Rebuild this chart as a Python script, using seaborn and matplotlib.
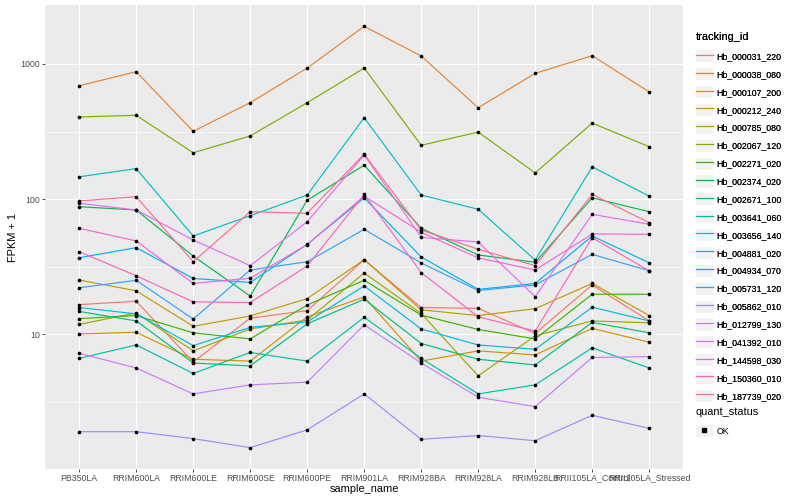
import numpy as np
import pandas as pd
import matplotlib
matplotlib.use("Agg")
import matplotlib.pyplot as plt
from matplotlib.lines import Line2D
from matplotlib.patches import Rectangle
from matplotlib.ticker import FixedLocator, FixedFormatter, NullFormatter
import seaborn as sns

samples = ["PB350LA", "RRIM600LA", "RRIM600LE", "RRIM600SE", "RRIM600PE", "RRIM901LA",
           "RRIM928BA", "RRIM928LA", "RRIM928LB", "RRII105LA_Control", "RRII105LA_Stressed"]

tracking_ids = ["Hb_000031_220", "Hb_000038_080", "Hb_000107_200", "Hb_000212_240",
                "Hb_000785_080", "Hb_002067_120", "Hb_002271_020", "Hb_002374_020",
                "Hb_002671_100", "Hb_003641_060", "Hb_003656_140", "Hb_004881_020",
                "Hb_004934_070", "Hb_005731_120", "Hb_005862_010", "Hb_012799_130",
                "Hb_041392_010", "Hb_144598_030", "Hb_150360_010", "Hb_187739_020"]

# FPKM + 1, one list per gene, in sample order
hb_000031_220 = [16.5, 17.5, 6.2, 13.1, 14.9, 35.5, 15.7, 15.5, 10.1, 23.1, 12.5]
hb_000038_080 = [690, 877, 317, 517, 933, 1900, 1146, 474, 853, 1152, 621]
hb_000107_200 = [10.0, 10.3, 6.5, 6.3, 13.4, 18.8, 6.3, 7.5, 7.0, 11.0, 8.7]
hb_000212_240 = [25.1, 20.9, 11.4, 13.6, 18.3, 35.5, 15.1, 13.7, 15.4, 23.7, 13.7]
hb_000785_080 = [11.8, 14.3, 7.5, 10.9, 12.7, 28.3, 14.2, 4.9, 9.7, 12.5, 12.1]
hb_002067_120 = [405, 417, 220, 293, 517, 933, 250, 313, 156, 365, 244]
hb_002271_020 = [13.0, 13.7, 10.2, 9.2, 16.4, 25.0, 13.8, 10.8, 9.2, 19.7, 19.7]
hb_002374_020 = [87.7, 82.9, 37.8, 19.1, 98, 178, 60.7, 38.5, 34.0, 102, 80.5]
hb_002671_100 = [14.7, 12.5, 6.1, 5.8, 11.9, 18.1, 8.5, 6.5, 5.9, 12.2, 10.2]
hb_003641_060 = [6.6, 8.3, 5.1, 7.3, 6.3, 13.3, 6.6, 3.6, 4.2, 7.9, 5.6]
hb_003656_140 = [146, 168, 53.2, 75.2, 107, 400, 107, 83.9, 35.3, 173, 105]
hb_004881_020 = [15.7, 14.1, 8.2, 11.2, 12.3, 22.7, 10.9, 8.3, 7.7, 15.8, 12.5]
hb_004934_070 = [36.7, 43.6, 25.8, 24.1, 46.2, 102, 37.2, 21.4, 23.7, 53.2, 33.7]
hb_005731_120 = [22.0, 25.0, 12.9, 29.8, 34.3, 59.6, 33.6, 21.0, 23.1, 38.9, 29.4]
hb_005862_010 = [1.89, 1.89, 1.68, 1.44, 1.95, 3.6, 1.66, 1.77, 1.62, 2.5, 2.0]
hb_012799_130 = [7.2, 5.6, 3.6, 4.2, 4.4, 11.7, 6.1, 3.4, 2.9, 6.7, 6.8]
hb_041392_010 = [93, 82.9, 49.7, 32.1, 67.9, 212, 52, 48, 18.9, 77, 65]
hb_144598_030 = [60.7, 48.9, 23.7, 25.9, 46, 105, 56.7, 36.6, 29.8, 55.1, 54.8]
hb_150360_010 = [40.7, 27.0, 17.3, 17.1, 31.9, 108, 28.5, 13.4, 10.5, 51.7, 29.4]
hb_187739_020 = [96.7, 104, 34.3, 80.5, 78.4, 215, 58.9, 42.4, 32.1, 108, 66.8]

series = [hb_000031_220, hb_000038_080, hb_000107_200, hb_000212_240, hb_000785_080,
          hb_002067_120, hb_002271_020, hb_002374_020, hb_002671_100, hb_003641_060,
          hb_003656_140, hb_004881_020, hb_004934_070, hb_005731_120, hb_005862_010,
          hb_012799_130, hb_041392_010, hb_144598_030, hb_150360_010, hb_187739_020]

# ggplot2 default hue palette for 20 levels
palette = ["#F8766D", "#EA8331", "#D89000", "#C09B00", "#A3A500", "#7CAE00", "#39B600",
           "#00BB4E", "#00BF7D", "#00C1A3", "#00BFC4", "#00BAE0", "#00B0F6", "#35A2FF",
           "#9590FF", "#C77CFF", "#E76BF3", "#FA62DB", "#FF62BC", "#FF6C91"]

rows = []
for tid, vals in zip(tracking_ids, series):
    for s, v in zip(samples, vals):
        rows.append({"tracking_id": tid, "sample_name": s, "fpkm": v})
df = pd.DataFrame(rows)
df["pos"] = pd.Categorical(df["sample_name"], categories=samples).codes

plt.rcParams["font.family"] = ["Liberation Sans", "DejaVu Sans"]

fig = plt.figure(figsize=(8, 5), dpi=100)
ax = fig.add_axes([45 / 800, 31.3 / 500, 638.4 / 800, 463.4 / 500])
ax.set_facecolor("#EBEBEB")
for sp in ax.spines.values():
    sp.set_visible(False)

sns.lineplot(data=df, x="pos", y="fpkm", hue="tracking_id", hue_order=tracking_ids,
             palette=palette, sort=False, estimator=None, linewidth=0.85,
             legend=False, ax=ax, zorder=2)
sns.scatterplot(data=df, x="pos", y="fpkm", color="black", s=7, linewidth=0,
                legend=False, ax=ax, zorder=3)

ax.set_yscale("log")
lo, hi = np.log10(df["fpkm"].min()), np.log10(df["fpkm"].max())
pad = 0.05 * (hi - lo)
ax.set_ylim(10 ** (lo - pad), 10 ** (hi + pad))
ax.set_xlim(-0.6, len(samples) - 0.4)

ax.yaxis.set_major_locator(FixedLocator([10, 100, 1000]))
ax.yaxis.set_major_formatter(FixedFormatter(["10", "100", "1000"]))
ax.yaxis.set_minor_locator(FixedLocator([10 ** 0.5, 10 ** 1.5, 10 ** 2.5]))
ax.yaxis.set_minor_formatter(NullFormatter())
ax.set_xticks(range(len(samples)))
ax.set_xticklabels(samples)

ax.grid(which="major", color="white", linewidth=0.8)
ax.yaxis.grid(which="minor", color="white", linewidth=0.4)
ax.set_axisbelow(True)
ax.tick_params(which="major", length=2, width=0.6, color="#333333",
               labelsize=6.3, labelcolor="#4D4D4D", pad=1.6)
ax.tick_params(which="minor", length=0)

ax.set_xlabel("sample_name", fontsize=7.9, labelpad=1)
ax.set_ylabel("FPKM + 1", fontsize=7.9, labelpad=2)

# legend for genes
handles = [(Rectangle((0, 0), 1, 1, facecolor="#F2F2F2", edgecolor="none"),
            Line2D([], [], color=c, linewidth=0.9)) for c in palette]
leg1 = fig.legend(handles, tracking_ids, title="tracking_id", loc="upper left",
                  bbox_to_anchor=(696 / 800, 1 - 32 / 500), frameon=False,
                  fontsize=6.3, title_fontsize=7.9, handlelength=1.9, handleheight=1.75,
                  labelspacing=0.66, handletextpad=0.45, borderpad=0, borderaxespad=0,
                  alignment="left")
leg1._legend_box.sep = 6
fig.add_artist(leg1)

ok_handle = [(Rectangle((0, 0), 1, 1, facecolor="#F2F2F2", edgecolor="none"),
              Line2D([], [], color="black", marker="s", markersize=2.2, linestyle="none"))]
leg2 = fig.legend(ok_handle, ["OK"], title="quant_status", loc="upper left",
                  bbox_to_anchor=(696 / 800, 1 - 407 / 500), frameon=False,
                  fontsize=6.3, title_fontsize=7.9, handlelength=1.9, handleheight=1.75,
                  handletextpad=0.45, borderpad=0, borderaxespad=0, alignment="left")
leg2._legend_box.sep = 6

fig.savefig("out.png", dpi=100)
